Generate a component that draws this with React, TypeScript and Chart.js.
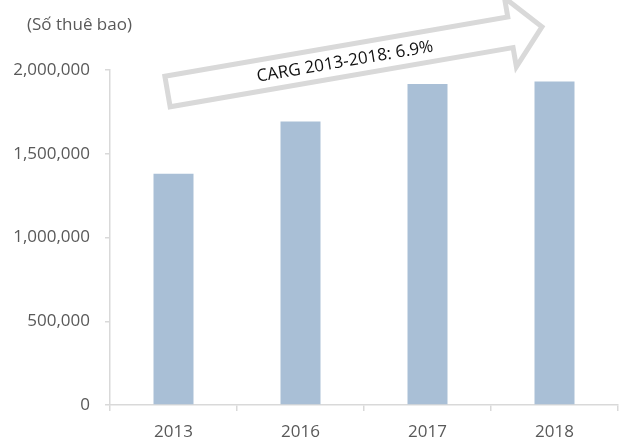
import React, { useEffect, useRef } from "react";
import { Chart, registerables } from "chart.js";

Chart.register(...registerables);

const categories: string[] = ["2013", "2016", "2017", "2018"];
const subscribers: number[] = [1380000, 1692000, 1916000, 1932000];
const yTickStep = 500000;
const yMax = 2000000;
const unitLabel = "(Số thuê bao)";
const cagrLabel = "CARG 2013-2018: 6.9%";

const FONT = "'Open Sans', 'Noto Sans', sans-serif";
const AXIS_GRAY = "#d9d9d9";
const TEXT_GRAY = "#595959";
const BAR_COLOR = "#a9bfd6";

const overlayPlugin = {
  id: "overlay",
  afterDraw(chart: any) {
    const ctx = chart.ctx as CanvasRenderingContext2D;
    ctx.save();
    // unit label
    ctx.font = `17px ${FONT}`;
    ctx.fillStyle = TEXT_GRAY;
    ctx.textAlign = "left";
    ctx.textBaseline = "middle";
    ctx.fillText(unitLabel, 27, 25);

    // CAGR arrow
    const ox = 167.5;
    const oy = 91.5;
    const ang = (-9.8 * Math.PI) / 180;
    const ux = Math.cos(ang);
    const uy = Math.sin(ang);
    const nx = -uy;
    const ny = ux;
    const pt = (a: number, b: number): [number, number] => [ox + ux * a + nx * b, oy + uy * a + ny * b];
    const shaftHalf = 15.5;
    const headBase = 348;
    const headHalf = 35;
    const tip = 380;
    const pts = [
      pt(0, -shaftHalf),
      pt(headBase, -shaftHalf),
      pt(headBase, -headHalf),
      pt(tip, 0),
      pt(headBase, headHalf),
      pt(headBase, shaftHalf),
      pt(0, shaftHalf),
    ];
    ctx.beginPath();
    ctx.moveTo(pts[0][0], pts[0][1]);
    for (let i = 1; i < pts.length; i++) ctx.lineTo(pts[i][0], pts[i][1]);
    ctx.closePath();
    ctx.fillStyle = "#ffffff";
    ctx.fill();
    ctx.lineWidth = 5;
    ctx.lineJoin = "miter";
    ctx.strokeStyle = AXIS_GRAY;
    ctx.stroke();

    const c = pt(180, 1);
    ctx.translate(c[0], c[1]);
    ctx.rotate(ang);
    ctx.font = `17px ${FONT}`;
    ctx.fillStyle = "#111111";
    ctx.textAlign = "center";
    ctx.textBaseline = "middle";
    ctx.fillText(cagrLabel, 0, 0);
    ctx.restore();
  },
};

export default function App() {
  const ref = useRef<HTMLCanvasElement | null>(null);
  useEffect(() => {
    if (!ref.current) return;
    const chart = new Chart(ref.current, {
      type: "bar",
      data: {
        labels: categories,
        datasets: [
          {
            data: subscribers,
            backgroundColor: BAR_COLOR,
            borderWidth: 0,
            categoryPercentage: 1,
            barPercentage: 0.315,
          },
        ],
      },
      options: {
        animation: false,
        responsive: false,
        maintainAspectRatio: false,
        layout: { padding: { top: 70, right: 18, bottom: 0, left: 0 } },
        plugins: { legend: { display: false }, tooltip: { enabled: false }, title: { display: false } },
        scales: {
          x: {
            grid: { offset: true, drawOnChartArea: false, drawTicks: true, tickLength: 6, color: AXIS_GRAY, lineWidth: 1.5 },
            border: { color: AXIS_GRAY, width: 1.5 },
            ticks: { color: TEXT_GRAY, font: { family: FONT, size: 17 }, padding: 11 },
            afterFit: (s: any) => {
              s.height = 39;
            },
          },
          y: {
            min: 0,
            max: yMax,
            grid: { drawOnChartArea: false, drawTicks: true, tickLength: 5, color: AXIS_GRAY, lineWidth: 1.5 },
            border: { color: AXIS_GRAY, width: 1.5 },
            ticks: {
              stepSize: yTickStep,
              color: TEXT_GRAY,
              font: { family: FONT, size: 17 },
              padding: 15,
              callback: (v: any) => Number(v).toLocaleString("en-US"),
            },
            afterFit: (s: any) => {
              s.width = 110;
            },
          },
        },
      },
      plugins: [overlayPlugin],
    });
    return () => chart.destroy();
  }, []);
  return (
    <div style={{ position: "fixed", left: 0, top: 0, width: 636, height: 444, background: "#fff" }}>
      <canvas ref={ref} width={636} height={444} style={{ width: 636, height: 444 }} />
    </div>
  );
}
